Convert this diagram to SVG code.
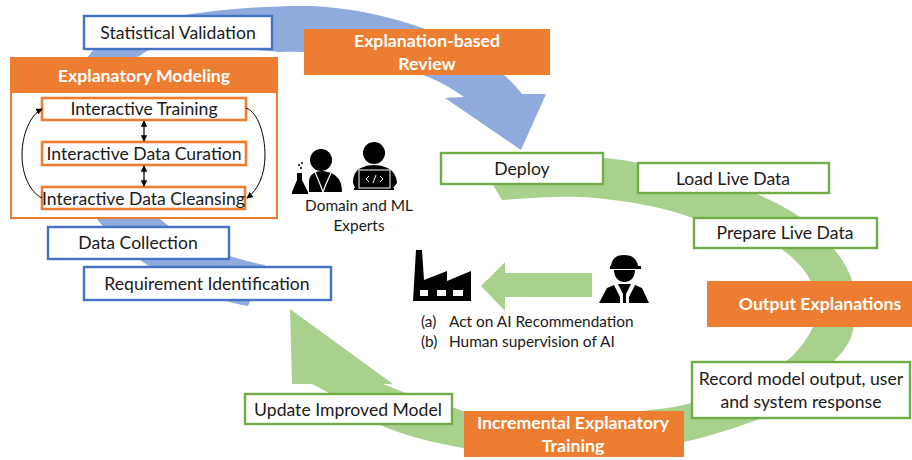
<svg xmlns="http://www.w3.org/2000/svg" width="912" height="460" viewBox="0 0 912 460">
<style>
text{font-family:"Lato","Liberation Sans",sans-serif;fill:#1a1a1a;text-anchor:middle}
.t{font-size:17.6px}
.s{font-size:15.4px}
.h{font-size:17.7px;font-weight:700;fill:#fff}
.ob{fill:#ED7D31;stroke:none}
.bl{fill:#fff;stroke:#4472C4;stroke-width:2.4}
.gr{fill:#fff;stroke:#70AD47;stroke-width:2.4}
.or{fill:#fff;stroke:#ED7D31;stroke-width:2.6}
.k{fill:#000;stroke:none}
.c{fill:none;stroke:#000;stroke-width:1;marker-end:url(#a)}
.d{fill:none;stroke:#000;stroke-width:1.2;marker-start:url(#a);marker-end:url(#a)}
</style>
<defs>
<marker id="a" viewBox="0 0 8 8" refX="7" refY="4" markerWidth="6.5" markerHeight="6.5" markerUnits="userSpaceOnUse" orient="auto-start-reverse"><path d="M0,0L8,4L0,8Z" fill="#000"/></marker>
</defs>
<g id="connectors">
<path id="blue-cycle" fill="#8FAADC" d="M248,306C190,296 130,262 97,219C50,170 55,60 120,30C170,12 260,5 313,6C390,10 480,40 522,94L546,94L521,150L445,98L464,97C420,65 350,50 280,52C260,50 200,44 150,49L138,57C110,100 120,190 160,219C190,245 230,258 265,265Z"/>
<path id="green-cycle" fill="#A9D18E" d="M493,185L502,200C530,198 560,196 580,197C630,200 665,208 693,218C730,228 760,235 780,248C793,257 804,268 810,280C817,295 819,312 813,327C807,340 795,355 785,362C760,385 720,396 692,403C680,406 670,408 650,410C590,418 510,422 463,411L452,407C430,402 405,393 383,384L393,384L290,309L292,384L312,384L333,395C350,408 365,418 380,425C405,436 435,443 463,448C540,458 620,455 684,442C710,436 735,428 757,420C785,408 815,385 833,362C845,350 853,340 854,322C856,305 855,290 852,280C845,258 822,232 800,217C785,207 770,200 757,194C720,178 670,168 637,163C625,160 615,159 603,158L493,155Z"/>
<path id="act-arrow" fill="#A9D18E" d="M481,286L505,262V273H592V297H505V311Z"/>
</g>
<g id="statistical-validation"><rect class="bl" x="84" y="16" width="188" height="33"/><text class="t" x="178" y="39">Statistical Validation</text></g>
<g id="explanation-review"><rect class="ob" x="304" y="29" width="246" height="46"/><text class="h" x="427" y="47">Explanation-based</text><text class="h" x="427" y="70">Review</text></g>
<g id="explanatory-modeling"><rect x="11" y="58" width="266" height="160" fill="#fff" stroke="#ED7D31" stroke-width="2"/><rect class="ob" x="10" y="57" width="268" height="36"/><text class="h" x="144" y="82">Explanatory Modeling</text></g>
<g id="interactive-training"><rect class="or" x="42" y="98" width="204" height="22"/><text class="t" x="144" y="115">Interactive Training</text></g>
<g id="interactive-data-curation"><rect class="or" x="42" y="142" width="204" height="23"/><text class="t" x="144" y="160">Interactive Data Curation</text></g>
<g id="interactive-data-cleansing"><rect class="or" x="42" y="187" width="203" height="22"/><text class="t" x="143.500" y="205">Interactive Data Cleansing</text></g>
<g id="inner-connectors">
<path class="d" d="M144,121V141"/>
<path class="d" d="M144,166V186"/>
<path class="c" d="M246,108C258,112 265,135 265,155C265,175 258,190 247,198"/>
<path class="c" d="M42,198C30,192 22,175 22,155C22,135 30,115 42,109"/>
</g>
<g id="data-collection"><rect class="bl" x="48" y="227" width="181" height="32"/><text class="t" x="138" y="249">Data Collection</text></g>
<g id="requirement-identification"><rect class="bl" x="84" y="267" width="247" height="33"/><text class="t" x="207" y="290">Requirement Identification</text></g>
<g id="deploy"><rect class="gr" x="441" y="153" width="162" height="31"/><text class="t" x="522" y="175">Deploy</text></g>
<g id="load-live-data"><rect class="gr" x="638" y="163" width="191" height="30"/><text class="t" x="733" y="185">Load Live Data</text></g>
<g id="prepare-live-data"><rect class="gr" x="694" y="218" width="183" height="30"/><text class="t" x="785" y="239">Prepare Live Data</text></g>
<g id="output-explanations"><rect class="ob" x="707" y="281" width="205" height="46"/><text class="h" x="820" y="310">Output Explanations</text></g>
<g id="record-model"><rect class="gr" x="692" y="362" width="218" height="56"/><text class="t" x="801" y="385">Record model output, user</text><text class="t" x="801" y="408">and system response</text></g>
<g id="incremental-training"><rect class="ob" x="464" y="411" width="220" height="46"/><text class="h" x="573" y="429">Incremental Explanatory</text><text class="h" x="573" y="452">Training</text></g>
<g id="update-model"><rect class="gr" x="245" y="394" width="207" height="30"/><text class="t" x="348" y="416">Update Improved Model</text></g>
<g id="experts">
<circle class="k" cx="321" cy="160" r="11"/>
<path class="k" d="M309,192V182C309,175 314,171 322,171C332,172 342,176 342,192Z"/>
<path d="M315,172L320,184L323,192L326,184L331,173" fill="none" stroke="#fff" stroke-width="1.2"/>
<path class="k" d="M297,173H302V180L308,192V194H292V192L297,180Z"/>
<circle class="k" cx="301" cy="168" r="1"/><circle class="k" cx="299" cy="165" r="1"/><circle class="k" cx="302" cy="163" r="1"/>
<circle class="k" cx="374" cy="153" r="11"/>
<path class="k" d="M353,183C353,172 358,166 374,165C390,166 396,172 397,183L393,188H355Z"/>
<rect class="k" x="354" y="188" width="40" height="2"/>
<rect x="359" y="170" width="31" height="18" fill="#000" stroke="#fff" stroke-width="1"/>
<path d="M369,176L366,179L369,182M380,176L383,179L380,182M376,175L373,183" fill="none" stroke="#fff" stroke-width="1"/>
<text class="s" x="359" y="211">Domain and ML</text><text class="s" x="359" y="231">Experts</text>
</g>
<g id="factory">
<path class="k" d="M413,301L416,250H422L424,280L447,271V281L471,271V301Z"/>
<rect x="420" y="290" width="8" height="6" fill="#fff"/><rect x="437" y="290" width="9" height="6" fill="#fff"/><rect x="453" y="290" width="10" height="6" fill="#fff"/>
</g>
<g id="worker">
<path class="k" d="M611,266C612,258 617,255 624,255C631,255 637,258 638,266H641V269H610V266Z"/>
<path class="k" d="M614,270H635C635,278 630,282 624.500,282C619,282 614,278 614,270Z"/>
<path class="k" d="M599,303L607,288L614,285L620,297V303ZM629,303V297L635,285L642,288L649,303ZM618,284H631L626,294V303H623V294Z"/>
</g>
<g id="actions">
<text class="s" x="421" y="327" style="text-anchor:start">(a)</text><text class="s" x="449" y="327" style="text-anchor:start">Act on AI Recommendation</text>
<text class="s" x="421" y="347" style="text-anchor:start">(b)</text><text class="s" x="449" y="347" style="text-anchor:start">Human supervision of AI</text>
</g>
</svg>
